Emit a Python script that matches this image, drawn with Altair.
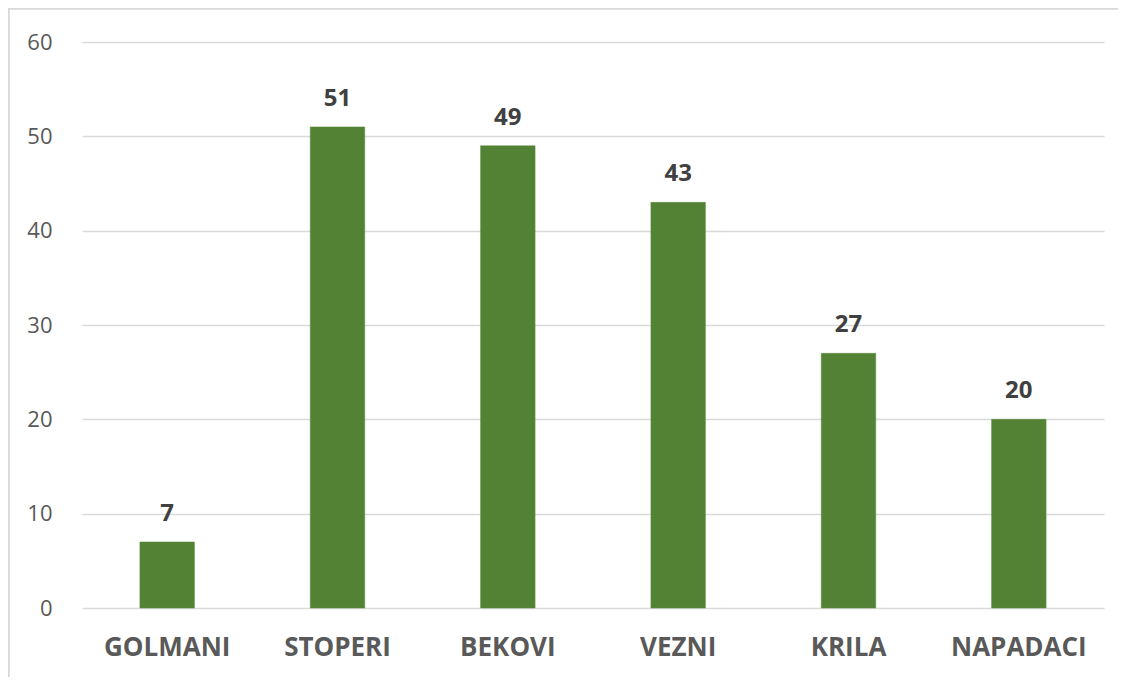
import altair as alt
import pandas as pd

categories = ["GOLMANI", "STOPERI", "BEKOVI", "VEZNI", "KRILA", "NAPADACI"]
values = [7, 51, 49, 43, 27, 20]
y_ticks = [0, 10, 20, 30, 40, 50, 60]

df = pd.DataFrame({"cat": categories, "val": values})

FONT = "Open Sans"

x = alt.X("cat:N", sort=categories, title=None,
          scale=alt.Scale(paddingInner=0.68, paddingOuter=0.34),
          axis=alt.Axis(labelAngle=0, labelFont=FONT, labelFontSize=26,
                        labelFontWeight="bold", labelColor="#595959",
                        labelPadding=26, ticks=False, domain=False, grid=False))
y = alt.Y("val:Q", title=None,
          scale=alt.Scale(domain=[0, 60], nice=False),
          axis=alt.Axis(values=y_ticks, labelFont=FONT, labelFontSize=22,
                        labelColor="#595959", labelPadding=30, ticks=False,
                        domain=False, gridColor="#d9d9d9", gridWidth=1.5))

bars = alt.Chart(df).mark_bar(color="#548235", stroke="#5a8a3c", strokeWidth=0.5).encode(x=x, y=y)
labels = alt.Chart(df).mark_text(font=FONT, fontSize=24, fontWeight="bold",
                                 color="#404040", baseline="alphabetic", dy=-21).encode(
    x=alt.X("cat:N", sort=categories), y="val:Q", text="val:Q")

border_top = alt.Chart(df).mark_rule(color="#d9d9d9", strokeWidth=1.5, clip=False).encode(
    x=alt.value(-74), x2=alt.value(1060), y=alt.value(-33.5))
border_left = alt.Chart(df).mark_rule(color="#d9d9d9", strokeWidth=1.5, clip=False).encode(
    x=alt.value(-73.5), y=alt.value(-34), y2=alt.value(660))

chart = alt.layer(bars, labels, border_top, border_left).properties(
    width=1022, height=566,
    background="white",
    padding={"left": 74, "top": 34, "right": 14, "bottom": 69},
    autosize=alt.AutoSizeParams(type="none"),
).configure_view(stroke=None, strokeWidth=0)

chart.save("out.html", embed_options={"renderer": "svg", "actions": False})
